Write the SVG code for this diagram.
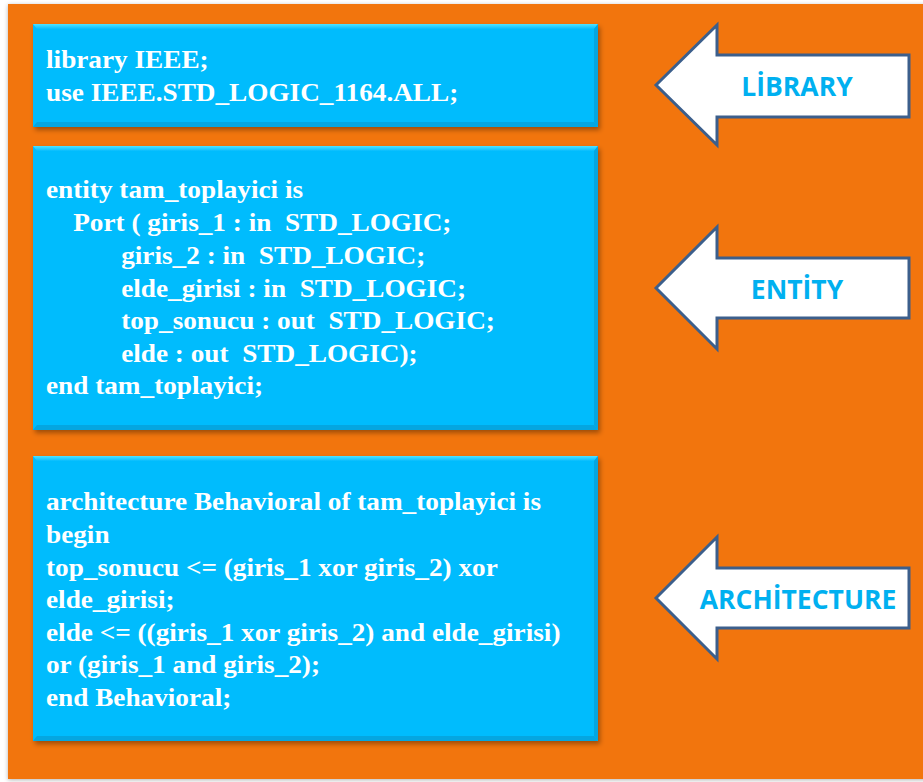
<svg xmlns="http://www.w3.org/2000/svg" width="923" height="782" viewBox="0 0 923 782">
<defs>
<style>
.code{font-family:"Liberation Serif","Times New Roman",serif;font-weight:bold;font-size:25px;fill:#ffffff;white-space:pre}
.lbl{font-family:"Open Sans","Noto Sans","Liberation Sans",sans-serif;font-weight:bold;font-size:26.5px;fill:#00B0F0;text-anchor:middle}
.box{fill:#06BCFD}
.arrow{fill:#ffffff;stroke:#3C5F8C;stroke-width:3;stroke-linejoin:miter}
</style>
<linearGradient id="topBevel" x1="0" y1="0" x2="0" y2="1">
<stop offset="0" stop-color="#4FE3FF"/>
<stop offset="1" stop-color="#06BCFD"/>
</linearGradient>
<filter id="shadow" x="-5%" y="-5%" width="115%" height="115%">
<feDropShadow dx="2" dy="3" stdDeviation="2.5" flood-color="#000" flood-opacity="0.35"/>
</filter>
<filter id="bgshadow" x="-5%" y="-5%" width="115%" height="115%">
<feDropShadow dx="0" dy="1" stdDeviation="2" flood-color="#000" flood-opacity="0.3"/>
</filter>
</defs>
<rect x="0" y="0" width="923" height="782" fill="#ffffff"/>
<rect id="background" x="8" y="4" width="925" height="775" fill="#F27511" filter="url(#bgshadow)"/>

<g id="box-library">
<rect class="box" x="33" y="24" width="565" height="103" filter="url(#shadow)"/>
<polygon points="33,24 598,24 594,29 37,29" fill="url(#topBevel)"/>
<polygon points="33,127 598,127 594,122 37,122" fill="#05A6E0"/>
<polygon points="598,24 598,127 594,122 594,29" fill="#05A6E0"/>
<g transform="translate(46,0) scale(1.09,1)">
<text class="code" x="0" y="68">library IEEE;</text>
<text class="code" x="0" y="101">use IEEE.STD_LOGIC_1164.ALL;</text>
</g>
</g>

<g id="box-entity">
<rect class="box" x="33" y="146" width="565" height="284" filter="url(#shadow)"/>
<polygon points="33,146 598,146 594,151 37,151" fill="url(#topBevel)"/>
<polygon points="33,430 598,430 594,425 37,425" fill="#05A6E0"/>
<polygon points="598,146 598,430 594,425 594,151" fill="#05A6E0"/>
<g transform="translate(46,0) scale(1.09,1)">
<text class="code" x="0" y="198">entity tam_toplayici is</text>
<text class="code" x="25" y="231" xml:space="preserve">Port ( giris_1 : in  STD_LOGIC;</text>
<text class="code" x="69" y="264" xml:space="preserve">giris_2 : in  STD_LOGIC;</text>
<text class="code" x="69" y="297" xml:space="preserve">elde_girisi : in  STD_LOGIC;</text>
<text class="code" x="69" y="329" xml:space="preserve">top_sonucu : out  STD_LOGIC;</text>
<text class="code" x="69" y="362" xml:space="preserve">elde : out  STD_LOGIC);</text>
<text class="code" x="0" y="394">end tam_toplayici;</text>
</g>
</g>

<g id="box-architecture">
<rect class="box" x="33" y="456" width="565" height="285" filter="url(#shadow)"/>
<polygon points="33,456 598,456 594,461 37,461" fill="url(#topBevel)"/>
<polygon points="33,741 598,741 594,736 37,736" fill="#05A6E0"/>
<polygon points="598,456 598,741 594,736 594,461" fill="#05A6E0"/>
<g transform="translate(46,0) scale(1.09,1)">
<text class="code" x="0" y="510">architecture Behavioral of tam_toplayici is</text>
<text class="code" x="0" y="543">begin</text>
<text class="code" x="0" y="576">top_sonucu &lt;= (giris_1 xor giris_2) xor</text>
<text class="code" x="0" y="608">elde_girisi;</text>
<text class="code" x="0" y="641">elde &lt;= ((giris_1 xor giris_2) and elde_girisi)</text>
<text class="code" x="0" y="673">or (giris_1 and giris_2);</text>
<text class="code" x="0" y="706">end Behavioral;</text>
</g>
</g>

<g id="arrow-library">
<polygon class="arrow" points="656,85 717,25 717,55 909,55 909,117 717,117 717,145"/>
<text class="lbl" x="797" y="96">LİBRARY</text>
</g>

<g id="arrow-entity">
<polygon class="arrow" points="656,288 717,227 717,258 909,258 909,318 717,318 717,349"/>
<text class="lbl" x="797" y="299">ENTİTY</text>
</g>

<g id="arrow-architecture">
<polygon class="arrow" points="656,598 717,537 717,568 909,568 909,628 717,628 717,659"/>
<text class="lbl" x="798" y="609">ARCHİTECTURE</text>
</g>

<g id="connectors"></g>
</svg>
